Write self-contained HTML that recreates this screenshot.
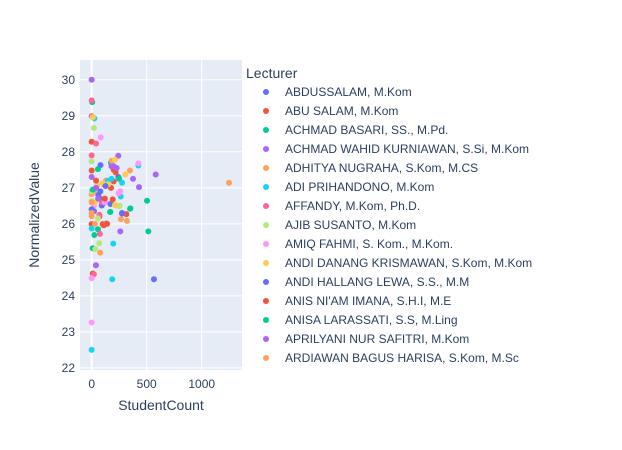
<!DOCTYPE html>
<html><head><meta charset="utf-8"><style>
body{margin:0;background:#fff;}
svg{display:block;font-family:"Liberation Sans",Arial,sans-serif;}
</style></head><body>
<svg id="chart" width="622" height="450"></svg>
<script>
const xTicks=[0,500,1000];
const yTicks=[22,23,24,25,26,27,28,29,30];
const lecturers=["ABDUSSALAM, M.Kom","ABU SALAM, M.Kom","ACHMAD BASARI, SS., M.Pd.","ACHMAD WAHID KURNIAWAN, S.Si, M.Kom","ADHITYA NUGRAHA, S.Kom, M.CS","ADI PRIHANDONO, M.Kom","AFFANDY, M.Kom, Ph.D.","AJIB SUSANTO, M.Kom","AMIQ FAHMI, S. Kom., M.Kom.","ANDI DANANG KRISMAWAN, S.Kom, M.Kom","ANDI HALLANG LEWA, S.S., M.M","ANIS NI'AM IMANA, S.H.I, M.E","ANISA LARASSATI, S.S, M.Ling","APRILYANI NUR SAFITRI, M.Kom","ARDIAWAN BAGUS HARISA, S.Kom, M.Sc"];
const colors=["#636efa","#EF553B","#00cc96","#ab63fa","#FFA15A","#19d3f3","#FF6692","#B6E880","#FF97FF","#FECB52","#636efa","#EF553B","#00cc96","#ab63fa","#FFA15A"];
const s0=[[80,27.63],[242,27.3],[79,26.9],[76,26.7],[91,26.51],[170,26.55],[21,26.35],[100,26.55],[60,26.8]];
const s1=[[0,28.28],[0,27.48],[218,27.43],[200,27.18],[109,27.1],[176,27.0],[191,26.68],[315,26.27],[0,25.99],[100,25.99],[110,25.96],[10,24.62],[200,27.5],[70,26.2]];
const s2=[[5,29.38],[57,27.52],[175,27.7],[18,26.94],[503,26.64],[352,26.43],[170,26.33],[24,25.69],[57,25.85],[9,25.32],[515,25.79],[349,26.42],[250,27.25]];
const s3=[[0,30.0],[0,27.3],[242,27.89],[227,27.55],[376,27.25],[582,27.37],[430,27.02],[9,26.35],[39,24.85],[260,25.79],[276,26.28],[180,27.6]];
const s4=[[181,27.75],[348,27.48],[1248,27.14],[0,26.82],[130,27.2],[0,26.21],[78,25.2],[266,26.13],[321,26.08],[0,26.4],[20,26.9]];
const s5=[[25,28.93],[424,27.62],[276,27.14],[264,26.76],[0,25.87],[196,25.45],[187,24.46],[0,22.5],[150,27.2],[180,27.25]];
const s6=[[0,29.43],[0,28.99],[40,28.23],[0,27.9],[93,26.6],[75,25.72],[133,26.01],[20,24.6],[70,26.25]];
const s7=[[20,28.66],[0,27.73],[0,26.63],[255,26.5],[69,25.46],[33,25.3],[57,26.15],[240,26.5],[0,26.9]];
const s8=[[82,28.4],[424,27.68],[245,26.85],[20,26.5],[0,24.49],[0,23.26],[120,26.6],[260,26.9]];
const s9=[[10,28.96],[212,27.78],[306,27.37],[50,27.06],[100,27.12],[212,26.52],[150,27.1],[30,26.6]];
const s10=[[566,24.46],[126,27.05],[276,26.3],[0,26.4]];
const s11=[[40,27.2],[140,26.0],[120,26.7]];
const s12=[[167,26.33],[10,26.95],[60,26.7]];
const s13=[[200,27.6],[60,26.7],[40,27.0]];
const s14=[[0,26.3],[30,26.0],[0,26.6]];
const series=[s0,s1,s2,s3,s4,s5,s6,s7,s8,s9,s10,s11,s12,s13,s14];

const NS="http://www.w3.org/2000/svg";
const svg=document.getElementById('chart');
const L=80,R=242,T=60,B=370;
const xmin=-106,xmax=1366,ymin=21.94,ymax=30.55;
const xs=v=>L+(v-xmin)/(xmax-xmin)*(R-L);
const ys=v=>B-(v-ymin)/(ymax-ymin)*(B-T);
function mk(tag,attrs,parent){const e=document.createElementNS(NS,tag);for(const k in attrs)e.setAttribute(k,attrs[k]);(parent||svg).appendChild(e);return e;}
const bg=mk('rect',{x:L,y:T,width:R-L,height:B-T,fill:'#E5ECF6'});


yTicks.forEach(t=>{
  const g=mk('line',{x1:L,x2:R,y1:ys(t),y2:ys(t),stroke:'#fff','stroke-width':1});
  
  
  const tx=mk('text',{x:L-5,y:ys(t)+4,'text-anchor':'end','font-size':12,fill:'#2a3f5f'});
  tx.textContent=t;
  
  
});
xTicks.forEach(t=>{
  const g=mk('line',{x1:xs(t),x2:xs(t),y1:T,y2:B,stroke:'#fff','stroke-width':t===0?2:1});
  
  
  const tx=mk('text',{x:xs(t),y:B+18,'text-anchor':'middle','font-size':12,fill:'#2a3f5f'});
  tx.textContent=t;
  
  
});
series.forEach((s,i)=>{
  s.forEach(p=>{
    const c=mk('circle',{cx:xs(p[0]),cy:ys(p[1]),r:3,fill:colors[i]});
    
    
  });
});
const xt=mk('text',{x:(L+R)/2,y:410,'text-anchor':'middle','font-size':14,fill:'#2a3f5f'});
xt.textContent='StudentCount';


const yt=mk('text',{x:39,y:(T+B)/2,'text-anchor':'middle','font-size':14,fill:'#2a3f5f',transform:'rotate(-90 39 '+((T+B)/2)+')'});
yt.textContent='NormalizedValue';


const lt=mk('text',{x:246,y:78,'font-size':14,fill:'#2a3f5f'});
lt.textContent='Lecturer';


lecturers.forEach((n,i)=>{
  const y=92+i*19;
  const c=mk('circle',{cx:266,cy:y,r:3,fill:colors[i]});
  
  
  const t=mk('text',{x:285,y:y+4,'font-size':12,fill:'#2a3f5f'});
  t.textContent=n;
  
  
});
</script>
</body></html>
